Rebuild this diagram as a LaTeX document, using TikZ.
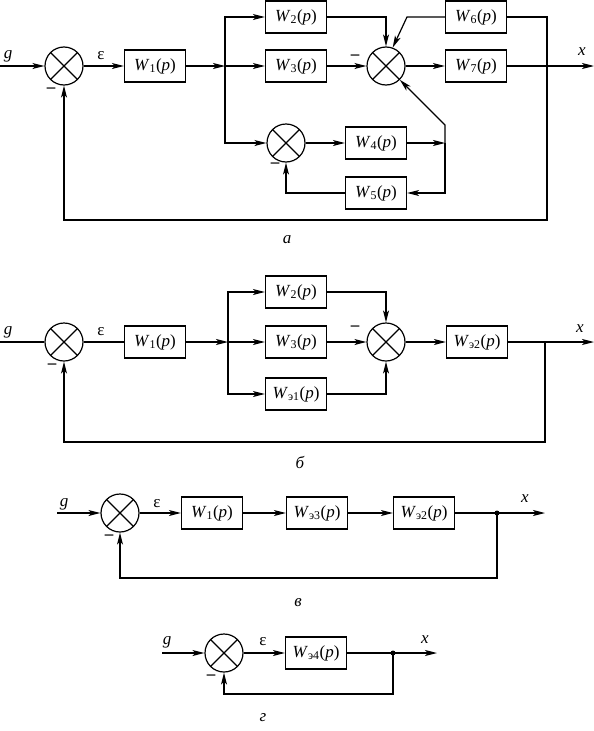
\documentclass[tikz,border=0pt]{standalone}
\usepackage{fontspec}
\setmainfont{Liberation Serif}
\usetikzlibrary{arrows.meta}
\newcommand{\Wl}[1]{\textit{W}\textsubscript{#1}(\textit{p})}
\begin{document}
\begin{tikzpicture}[x=1pt,y=-1pt,line width=1.2pt,
  font=\fontsize{17}{20}\selectfont,
  blk/.style={draw,rectangle,minimum width=61pt,minimum height=32pt,inner sep=0pt},
  sumj/.style={draw,circle,minimum size=38pt,inner sep=0pt,
    path picture={\draw[line width=1.2pt] (path picture bounding box.north west) -- (path picture bounding box.south east)
      (path picture bounding box.north east) -- (path picture bounding box.south west);}},
  arr/.style={-{Stealth[length=12pt,width=6pt,inset=3pt]}},
  lbl/.style={inner sep=0pt,font=\fontsize{17}{20}\selectfont\itshape},
  mns/.style={inner sep=0pt,font=\fontsize{17}{20}\selectfont\bfseries},
  dot/.style={circle,fill,inner sep=0pt,minimum size=5pt}]
\useasboundingbox (0,0) rectangle (594,731);

% ---------------- part a ----------------
\coordinate (gA) at (0,66);
\node[sumj] (sA1) at (64,66) {};
\node[blk] (W1a) at (155,66) {\Wl{1}};
\coordinate (jA) at (225,66);
\node[blk] (W2a) at (296,17) {\Wl{2}};
\node[blk] (W3a) at (296,66) {\Wl{3}};
\node[sumj] (sA2) at (386,66) {};
\node[blk] (W6a) at (476,17) {\Wl{6}};
\node[blk] (W7a) at (476,66) {\Wl{7}};
\coordinate (oA) at (594,66);
\node[sumj] (sA3) at (286,143) {};
\node[blk] (W4a) at (376,143) {\Wl{4}};
\node[blk] (W5a) at (376,193) {\Wl{5}};
\coordinate (jA2) at (445,143);
\coordinate (kA) at (445,125);
\coordinate (bA) at (407,17);
\coordinate (rA1) at (547,17);
\coordinate (rA2) at (547,220);

\draw[arr] (gA) -- (sA1.west);
\draw[arr] (sA1.east) -- (W1a.west);
\draw[arr] (W1a.east) -- (jA);
\draw[arr] (jA) |- (W2a.west);
\draw[arr] (jA) -- (W3a.west);
\draw[arr] (jA) |- (sA3.west);
\draw[arr] (W2a.east) -| (sA2.north);
\draw[arr] (W3a.east) -- (sA2.west);
\draw[arr] (W6a.west) -- (bA) -- (sA2.70);
\draw[arr] (sA2.east) -- (W7a.west);
\draw[arr] (W7a.east) -- (oA);
\draw[arr] (sA3.east) -- (W4a.west);
\draw[arr] (W4a.east) -- (jA2);
\draw[arr] (jA2) -- (kA) -- (sA2.south east);
\draw[arr] (jA2) |- (W5a.east);
\draw[arr] (W5a.west) -| (sA3.south);
\draw[arr] (W6a.east) -- (rA1) -- (rA2) -| (sA1.south);

\node[lbl] (lgA) at (8,56) {g};
\node[inner sep=0pt] (leA) at (101,56) {ε};
\node[lbl] (lxA) at (582,52) {x};
\node[mns] (mA1) at (51,90) {–};
\node[mns] (mA2) at (355,57) {–};
\node[mns] (mA3) at (275,165) {–};
\node[lbl] (capA) at (287,240) {а};

% ---------------- part b ----------------
\coordinate (gB) at (0,342);
\node[sumj] (sB1) at (64,342) {};
\node[blk] (W1b) at (155,342) {\Wl{1}};
\coordinate (jB) at (228,342);
\node[blk] (W2b) at (296,292) {\Wl{2}};
\node[blk] (W3b) at (296,342) {\Wl{3}};
\node[blk] (We1b) at (296,394) {\Wl{э1}};
\node[sumj] (sB2) at (386,342) {};
\node[blk] (We2b) at (477,342) {\Wl{э2}};
\coordinate (oB) at (594,342);
\coordinate (rB1) at (545,342);
\coordinate (rB2) at (545,442);

\draw (gB) -- (sB1.west);
\draw (sB1.east) -- (W1b.west);
\draw[arr] (W1b.east) -- (jB);
\draw[arr] (jB) |- (W2b.west);
\draw[arr] (jB) -- (W3b.west);
\draw[arr] (jB) |- (We1b.west);
\draw[arr] (W2b.east) -| (sB2.north);
\draw[arr] (W3b.east) -- (sB2.west);
\draw[arr] (We1b.east) -| (sB2.south);
\draw[arr] (sB2.east) -- (We2b.west);
\draw[arr] (We2b.east) -- (oB);
\draw[arr] (rB1) -- (rB2) -| (sB1.south);

\node[lbl] (lgB) at (8,332) {g};
\node[inner sep=0pt] (leB) at (101,332) {ε};
\node[lbl] (lxB) at (580,329) {x};
\node[mns] (mB1) at (52,366) {–};
\node[mns] (mB2) at (355,328) {–};
\node[lbl] (capB) at (300,462) {б};

% ---------------- part c ----------------
\coordinate (gC) at (57,513);
\node[sumj] (sC1) at (120,513) {};
\node[blk] (W1c) at (212,513) {\Wl{1}};
\node[blk] (We3c) at (317,513) {\Wl{э3}};
\node[blk] (We2c) at (424,513) {\Wl{э2}};
\node[dot] (dC) at (497,513) {};
\coordinate (oC) at (545,513);
\coordinate (rC) at (497,578);

\draw[arr] (gC) -- (sC1.west);
\draw[arr] (sC1.east) -- (W1c.west);
\draw[arr] (W1c.east) -- (We3c.west);
\draw[arr] (We3c.east) -- (We2c.west);
\draw[arr] (We2c.east) -- (oC);
\draw[arr] (dC.center) -- (rC) -| (sC1.south);

\node[lbl] (lgC) at (64,504) {g};
\node[inner sep=0pt] (leC) at (157,504) {ε};
\node[lbl] (lxC) at (525,499) {x};
\node[mns] (mC1) at (109,537) {–};
\node[lbl] (capC) at (298,603) {в};

% ---------------- part d ----------------
\coordinate (gD) at (162,653);
\node[sumj] (sD1) at (224,653) {};
\node[blk] (We4d) at (316,653) {\Wl{э4}};
\node[dot] (dD) at (393,653) {};
\coordinate (oD) at (437,653);
\coordinate (rD) at (393,694);

\draw[arr] (gD) -- (sD1.west);
\draw[arr] (sD1.east) -- (We4d.west);
\draw[arr] (We4d.east) -- (oD);
\draw[arr] (dD.center) -- (rD) -| (sD1.south);

\node[lbl] (lgD) at (167,642) {g};
\node[inner sep=0pt] (leD) at (263,642) {ε};
\node[lbl] (lxD) at (425,640) {x};
\node[mns] (mD1) at (211,677) {–};
\node[lbl] (capD) at (263,718) {г};
\end{tikzpicture}
\end{document}
